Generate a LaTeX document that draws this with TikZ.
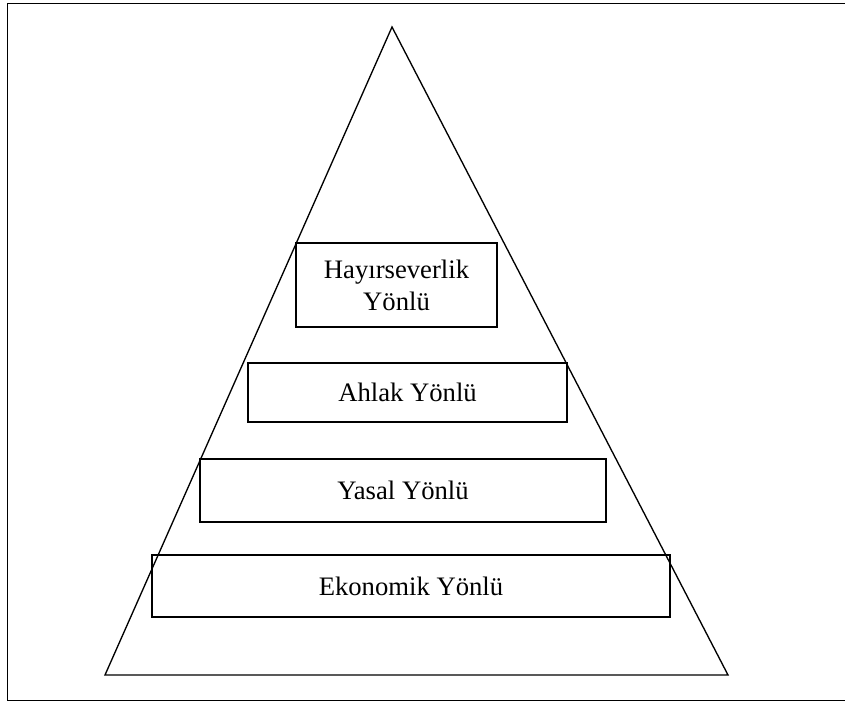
\documentclass[tikz,border=0pt]{standalone}
\usepackage{fontspec}
\setmainfont{Liberation Serif}
\begin{document}
\begin{tikzpicture}[x=0.75pt,y=-0.75pt,
  layerbox/.style={draw=black, line width=1.1pt, inner sep=0pt, align=center,
    font=\fontsize{20pt}{24pt}\selectfont},
  frameline/.style={draw=black, line width=1.3pt},
  pyramidline/.style={draw=black, line width=1pt, line join=miter}]
\useasboundingbox (0,0) rectangle (845,702);
% frame (right edge lies outside the picture)
\draw[frameline] (845,3.5) -- (7.5,3.5) -- (7.5,700.5) -- (845,700.5);
% pyramid
\coordinate (apex) at (392,27);
\coordinate (bl) at (105,675);
\coordinate (br) at (728,675);
\draw[pyramidline] (apex) -- (br) -- (bl) -- cycle;
% layers
\node[layerbox, text width=190*0.75pt,
      minimum width=201*0.75pt, minimum height=84*0.75pt] (hay) at (396.5,285)
      {Hayırseverlik\\Yönlü};
\node[layerbox, minimum width=319*0.75pt, minimum height=59*0.75pt] (ahl) at (407.5,392.5) {Ahlak Yönlü};
\node[layerbox, minimum width=406*0.75pt, minimum height=63*0.75pt] (yas) at (403,490.5) {Yasal Yönlü};
\node[layerbox, minimum width=518*0.75pt, minimum height=62*0.75pt] (eko) at (411,586) {Ekonomik Yönlü};
\end{tikzpicture}
\end{document}
